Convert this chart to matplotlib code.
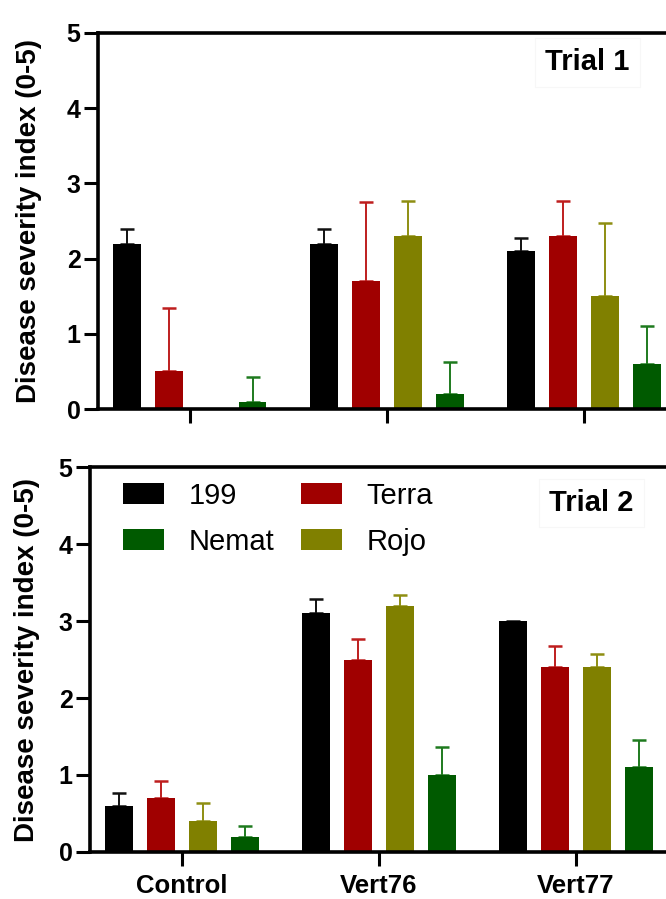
import matplotlib
matplotlib.use("Agg")
import matplotlib.pyplot as plt
import numpy as np
from matplotlib import font_manager

# ================== Données ==================

groups = ["Control", "Vert76", "Vert77"]
cultivars = ["199", "Terra", "Rojo", "Nemat"]
yticks = [0, 1, 2, 3, 4, 5]

# Trial 1 : moyennes et erreurs (partie haute uniquement)
trial1_199 = [2.2, 2.2, 2.1]
trial1_terra = [0.5, 1.7, 2.3]
trial1_rojo = [0.0, 2.3, 1.5]
trial1_nemat = [0.1, 0.2, 0.6]
trial1_199_err = [0.2, 0.2, 0.17]
trial1_terra_err = [0.85, 1.05, 0.47]
trial1_rojo_err = [0.0, 0.47, 0.97]
trial1_nemat_err = [0.32, 0.42, 0.51]

# Trial 2
trial2_199 = [0.6, 3.1, 3.0]
trial2_terra = [0.7, 2.5, 2.4]
trial2_rojo = [0.4, 3.2, 2.4]
trial2_nemat = [0.2, 1.0, 1.1]
trial2_199_err = [0.17, 0.18, 0.0]
trial2_terra_err = [0.22, 0.27, 0.27]
trial2_rojo_err = [0.23, 0.14, 0.17]
trial2_nemat_err = [0.14, 0.37, 0.35]

bar_colors = ["#000000", "#A00000", "#808000", "#005A00"]
err_colors = ["#111111", "#BE1E1E", "#8E8E12", "#1E7A1E"]

# ================== Police ==================

names = {f.name for f in font_manager.fontManager.ttflist}
font = "Liberation Sans" if "Liberation Sans" in names else "DejaVu Sans"
plt.rcParams["font.family"] = font

fig = plt.figure(figsize=(6.66, 8.99), dpi=100)
ax1 = fig.add_axes([0.147, 0.545, 0.867, 0.4183])
ax2 = fig.add_axes([0.135, 0.0523, 0.867, 0.4282])

x = np.arange(len(groups))
width = 0.142
step = 0.213
offsets = [-1.5 * step, -0.5 * step, 0.5 * step, 1.5 * step]


def panel(ax, means, errs, xlabels, ylab_x):
    handles = []
    for i in range(4):
        b = ax.bar(x + offsets[i], means[i], width, color=bar_colors[i],
                   label=cultivars[i], zorder=2)
        handles.append(b)
        e = np.array(errs[i], dtype=float)
        e[e == 0] = np.nan
        ax.errorbar(x + offsets[i], means[i], yerr=[np.zeros(3), e], fmt="none",
                    ecolor=err_colors[i], elinewidth=1.4, capsize=5, capthick=1.8,
                    zorder=1)
    ax.set_xlim(-0.465, 2.465)
    ax.set_ylim(0, 5)
    ax.tick_params(axis="both", length=10, width=2.2, direction="out")
    ax.tick_params(axis="y", pad=2.5, labelsize=18)
    ax.tick_params(axis="x", pad=6, labelsize=18.5)
    ax.set_yticks(yticks, labels=[str(t) for t in yticks], fontweight="bold")
    if xlabels:
        ax.set_xticks(x, labels=groups, fontweight="bold")
    else:
        ax.set_xticks(x, labels=[])
    for s in ax.spines.values():
        s.set_linewidth(2.6)
    ax.set_ylabel("Disease severity index (0-5)", fontsize=20, fontweight="bold")
    ax.yaxis.set_label_coords(ylab_x, 0.5)
    return handles


h1 = panel(ax1, [trial1_199, trial1_terra, trial1_rojo, trial1_nemat],
           [trial1_199_err, trial1_terra_err, trial1_rojo_err, trial1_nemat_err],
           False, -0.097)
h2 = panel(ax2, [trial2_199, trial2_terra, trial2_rojo, trial2_nemat],
           [trial2_199_err, trial2_terra_err, trial2_rojo_err, trial2_nemat_err],
           True, -0.086)

box = dict(boxstyle="square,pad=0.35", facecolor="white", edgecolor="#f7f7f7", lw=0.8)
ax1.text(2.02, 4.61, "Trial 1", fontsize=21, fontweight="bold", ha="center",
         va="center", bbox=box)
ax2.text(2.08, 4.53, "Trial 2", fontsize=21, fontweight="bold", ha="center",
         va="center", bbox=box)

# légende : 199, Terra / Nemat, Rojo
order = [0, 3, 1, 2]
ax2.legend([h2[i] for i in order], [cultivars[i] for i in order], ncol=2,
           loc="upper left", bbox_to_anchor=(0.058, 0.962), frameon=False,
           fontsize=21, handlelength=1.4, handleheight=0.7, handletextpad=0.85,
           columnspacing=0.9, labelspacing=0.62, borderpad=0, borderaxespad=0)

fig.savefig("out.png", dpi=100)
